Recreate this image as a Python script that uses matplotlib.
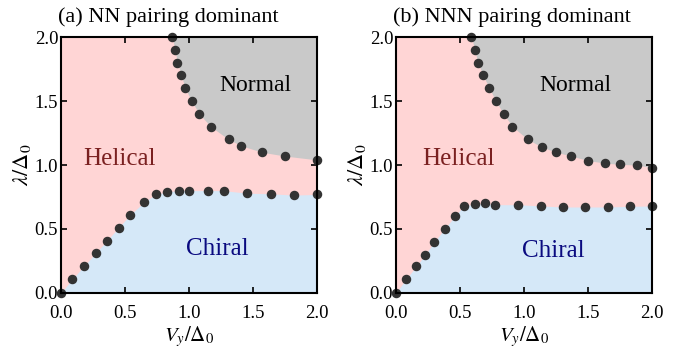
import numpy as np
import matplotlib
matplotlib.use("Agg")
import matplotlib.pyplot as plt

plt.rcParams["font.family"] = ["Liberation Serif", "DejaVu Serif"]
plt.rcParams["mathtext.fontset"] = "stix"

# (a) NN pairing dominant
a_up_x = [0.87, 0.89, 0.91, 0.94, 0.97, 1.02, 1.08, 1.17, 1.31, 1.41, 1.57, 1.75, 2.0]
a_up_y = [2.0, 1.9, 1.8, 1.7, 1.6, 1.5, 1.4, 1.3, 1.2, 1.15, 1.1, 1.07, 1.04]
a_lo_x = [0.0, 0.09, 0.18, 0.27, 0.36, 0.45, 0.54, 0.65, 0.74, 0.83, 0.92, 1.0,
          1.15, 1.27, 1.45, 1.64, 1.82, 2.0]
a_lo_y = [0.0, 0.11, 0.21, 0.31, 0.41, 0.51, 0.61, 0.71, 0.77, 0.79, 0.80, 0.80,
          0.80, 0.80, 0.78, 0.775, 0.765, 0.77]

# (b) NNN pairing dominant
b_up_x = [0.59, 0.615, 0.64, 0.68, 0.73, 0.78, 0.84, 0.91, 1.03, 1.14, 1.25,
          1.37, 1.50, 1.63, 1.75, 1.88, 2.0]
b_up_y = [2.0, 1.9, 1.8, 1.7, 1.6, 1.5, 1.4, 1.3, 1.2, 1.14, 1.1, 1.07, 1.035,
          1.015, 1.005, 1.0, 0.98]
b_lo_x = [0.0, 0.08, 0.16, 0.23, 0.30, 0.38, 0.46, 0.53, 0.615, 0.695, 0.775,
          0.95, 1.13, 1.305, 1.48, 1.655, 1.83, 2.0]
b_lo_y = [0.0, 0.11, 0.21, 0.30, 0.40, 0.50, 0.60, 0.68, 0.695, 0.70, 0.69,
          0.69, 0.68, 0.672, 0.672, 0.672, 0.677, 0.68]

titles = ["(a) NN pairing dominant", "(b) NNN pairing dominant"]
panels = [(a_up_x, a_up_y, a_lo_x, a_lo_y), (b_up_x, b_up_y, b_lo_x, b_lo_y)]
# label positions (Helical, Chiral, Normal) in data coords
label_pos = [((0.46, 1.05), (1.22, 0.34), (1.52, 1.62)),
             ((0.49, 1.05), (1.23, 0.33), (1.40, 1.62))]

pink = "#ffd5d5"
blue = "#d5e8f8"
gray = "#c9c9c9"

fig = plt.figure(figsize=(6.89, 3.56), dpi=100)
lefts = [0.0885, 0.5747]

for i in range(2):
    ax = fig.add_axes([lefts[i], 0.177, 0.3716, 0.719])
    ux, uy, lx, ly = panels[i]
    ax.set_facecolor(pink)
    ax.fill_between(lx, 0, ly, color=blue, lw=0, zorder=1)
    ax.fill_between(list(ux) + [2.0], list(uy) + [uy[-1]], 2.0, color=gray, lw=0, zorder=1)
    ax.scatter(ux, uy, s=34, color="#333333", zorder=5, clip_on=False)
    ax.scatter(lx, ly, s=34, color="#333333", zorder=5, clip_on=False)

    hp, cp, nrm = label_pos[i]
    ax.text(hp[0], hp[1], "Helical", color="#7a2020", fontsize=18, ha="center", va="center")
    ax.text(cp[0], cp[1], "Chiral", color="#0a0a80", fontsize=18, ha="center", va="center")
    ax.text(nrm[0], nrm[1], "Normal", color="black", fontsize=17, ha="center", va="center")

    ax.set_xlim(0, 2)
    ax.set_ylim(0, 2)
    ax.set_xticks([0, 0.5, 1.0, 1.5, 2.0])
    ax.set_yticks([0, 0.5, 1.0, 1.5, 2.0])
    ax.set_xticklabels(["0.0", "0.5", "1.0", "1.5", "2.0"])
    ax.set_yticklabels(["0.0", "0.5", "1.0", "1.5", "2.0"])
    ax.tick_params(direction="in", top=True, right=True, length=4, width=1.2,
                   labelsize=13.5)
    ax.tick_params(axis="x", pad=9)
    ax.tick_params(axis="y", pad=2)
    for sp in ax.spines.values():
        sp.set_linewidth(1.5)
        sp.set_zorder(6)
    ax.set_xlabel(r"$V_y/\Delta_0$", fontsize=15, labelpad=1)
    ax.set_ylabel(r"$\lambda/\Delta_0$", fontsize=16, labelpad=1)
    ax.set_title(titles[i], fontsize=16, pad=11, loc="left", x=-0.01)

fig.savefig("out.png", dpi=100)
